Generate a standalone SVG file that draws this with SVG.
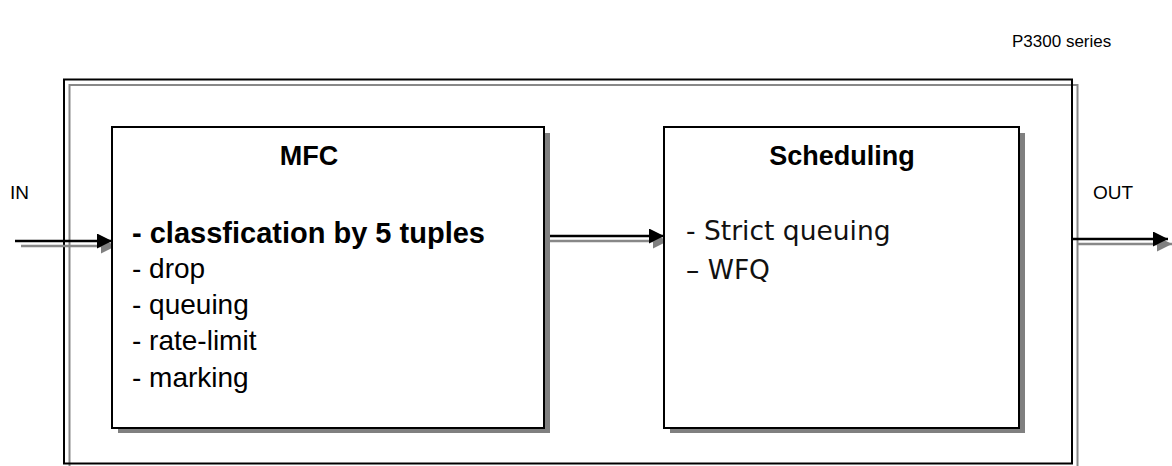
<svg xmlns="http://www.w3.org/2000/svg" width="1172" height="466" viewBox="0 0 1172 466">
<style>
text{font-family:"Liberation Sans",Arial,sans-serif;fill:#000}
.t{font-size:19px}
.p{font-size:17px}
.h{font-size:27px;font-weight:bold;text-anchor:middle}
.l{font-size:28px}
.b{font-size:29px;font-weight:bold}
.k{font-family:"DejaVu Sans","Noto Sans CJK KR",sans-serif;font-size:26.5px;fill:#111}
.box{fill:#fff;stroke:#000;stroke-width:2}
.sh{fill:#808080}
.bl{stroke:#000;stroke-width:2.5;fill:none}
.gl{stroke:#888;stroke-width:2.5;fill:none}
</style>
<defs>
<marker id="ab" viewBox="0 0 10 10" refX="10" refY="5" markerWidth="6" markerHeight="6" markerUnits="strokeWidth" orient="auto"><path d="M0,0L10,5L0,10z" fill="#000"/></marker>
<marker id="ag" viewBox="0 0 10 10" refX="10" refY="5" markerWidth="6" markerHeight="6" markerUnits="strokeWidth" orient="auto"><path d="M0,0L10,5L0,10z" fill="#808080"/></marker>
</defs>
<g id="frame">
<rect x="69.5" y="85" width="1008" height="400" fill="none" stroke="#888" stroke-width="2"/>
<rect x="64" y="79.5" width="1008" height="384" fill="none" stroke="#000" stroke-width="2"/>
</g>
<g id="connectors">
<line class="gl" x1="21" y1="246" x2="116" y2="246" marker-end="url(#ag)"/>
<line class="bl" x1="15" y1="241" x2="112" y2="241" marker-end="url(#ab)"/>
<line class="gl" x1="550" y1="241" x2="668" y2="241" marker-end="url(#ag)"/>
<line class="bl" x1="544" y1="236" x2="664" y2="236" marker-end="url(#ab)"/>
<line class="gl" x1="1078" y1="244" x2="1172" y2="244" marker-end="url(#ag)"/>
<line class="bl" x1="1072" y1="239" x2="1168" y2="239" marker-end="url(#ab)"/>
</g>
<g id="mfc">
<rect class="sh" x="118" y="133" width="432" height="300"/>
<rect class="box" x="112" y="127" width="432" height="301"/>
<text class="h" x="309" y="165">MFC</text>
<text class="b" x="132" y="243">- classfication by 5 tuples</text>
<text class="l" x="132" y="278">- drop</text>
<text class="l" x="132" y="314">- queuing</text>
<text class="l" x="132" y="350">- rate-limit</text>
<text class="l" x="132" y="387">- marking</text>
</g>
<g id="scheduling">
<rect class="sh" x="670" y="133" width="355" height="300"/>
<rect class="box" x="664" y="127" width="355" height="301"/>
<text class="h" x="842" y="165">Scheduling</text>
<text class="k" x="686" y="240">- Strict queuing</text>
<text class="k" x="686" y="279">– WFQ</text>
</g>
<g id="labels">
<text class="p" x="1012" y="47">P3300 series</text>
<text class="t" x="10" y="199">IN</text>
<text class="t" x="1093" y="199">OUT</text>
</g>
</svg>
